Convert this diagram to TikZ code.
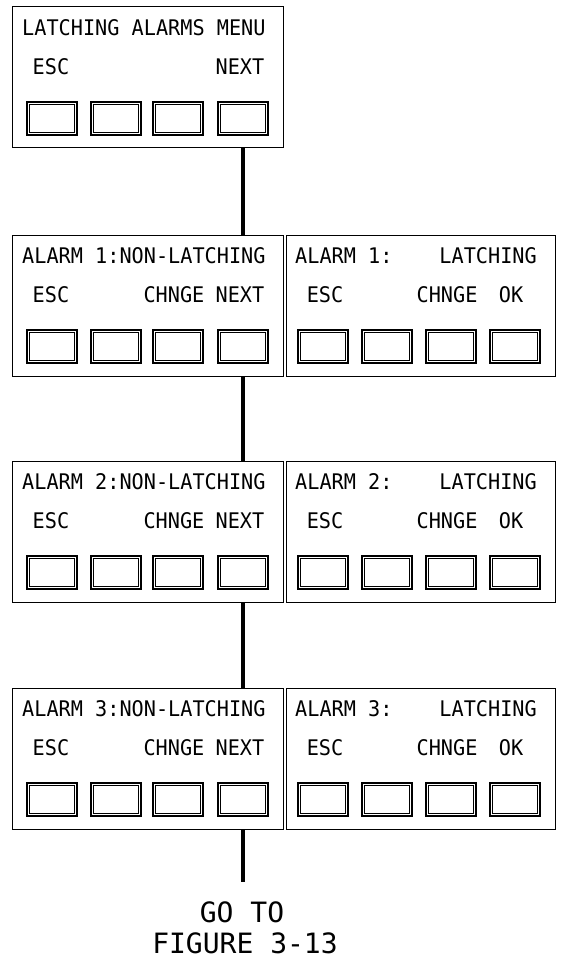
\documentclass[tikz,border=0pt]{standalone}
\usepackage{fontspec}
\newfontfamily\cadfont{DejaVu Sans Mono}
\newfontfamily\cadfontn[FakeStretch=0.94]{DejaVu Sans Mono}
\begin{document}
\begin{tikzpicture}[x=1pt,y=-1pt,
  panel/.style={draw, line width=1.4pt, anchor=north west, inner sep=0pt, minimum height=141pt},
  btn/.style={draw, line width=1.7pt, inner sep=0pt,
              minimum width=50.3pt, minimum height=33.3pt,
              path picture={\draw[line width=0.7pt]
                ([shift={(2.6pt,-2.6pt)}]path picture bounding box.north west) rectangle
                ([shift={(-2.6pt,2.6pt)}]path picture bounding box.south east);}},
  lbl/.style={inner sep=0pt, font=\cadfontn\fontsize{21.5}{24}\selectfont},
  bigl/.style={inner sep=0pt, font=\cadfont\fontsize{28}{32}\selectfont},
  conn/.style={line width=3.8pt}]
\useasboundingbox (0,0) rectangle (561,959);
% ---- top menu panel
\def\T{6}
\node[panel, minimum width=271pt] (P0) at (12,\T) {};
\node[lbl, anchor=base west] (t0) at (22,\T+29) {LATCHING ALARMS MENU};
\node[lbl, anchor=base] (e0) at (51,\T+68) {ESC};
\node[lbl, anchor=base] (n0) at (240,\T+68) {NEXT};
\foreach \bx [count=\i] in {52,116,178,243}
  \node[btn] (B0-\i) at (\bx,\T+112.5) {};
% ---- alarm rows
\foreach \k/\T in {1/235,2/461,3/688}{
  \node[panel, minimum width=271pt] (L\k) at (12,\T) {};
  \node[panel, minimum width=269pt] (R\k) at (286,\T) {};
  \node[lbl, anchor=base west] (tl\k) at (22,\T+28) {ALARM \k:NON-LATCHING};
  \node[lbl, anchor=base west] (tr\k) at (295,\T+28) {ALARM \k:};
  \node[lbl, anchor=base east] (lr\k) at (537,\T+28) {LATCHING};
  \node[lbl, anchor=base] (el\k) at (51,\T+67) {ESC};
  \node[lbl, anchor=base] (cl\k) at (174,\T+67) {CHNGE};
  \node[lbl, anchor=base] (nl\k) at (240,\T+67) {NEXT};
  \node[lbl, anchor=base] (er\k) at (325,\T+67) {ESC};
  \node[lbl, anchor=base] (cr\k) at (447,\T+67) {CHNGE};
  \node[lbl, anchor=base] (ok\k) at (511,\T+67) {OK};
  \foreach \bx [count=\i] in {52,116,178,243}
    \node[btn] (BL\k-\i) at (\bx,\T+111.5) {};
  \foreach \bx [count=\i] in {323,387,451,515}
    \node[btn] (BR\k-\i) at (\bx,\T+111.5) {};
}
% ---- connectors
\draw[conn] (P0.south -| B0-4) -- (L1.north -| B0-4);
\draw[conn] (L1.south -| BL1-4) -- (L2.north -| BL1-4);
\draw[conn] (L2.south -| BL2-4) -- (L3.north -| BL2-4);
\coordinate (endc) at (243,882);
\draw[conn] (L3.south -| BL3-4) -- (endc);
\node[bigl, anchor=base] (go) at (242,922) {GO TO};
\node[bigl, anchor=base] (fig) at (245,953) {FIGURE 3-13};
\end{tikzpicture}
\end{document}
